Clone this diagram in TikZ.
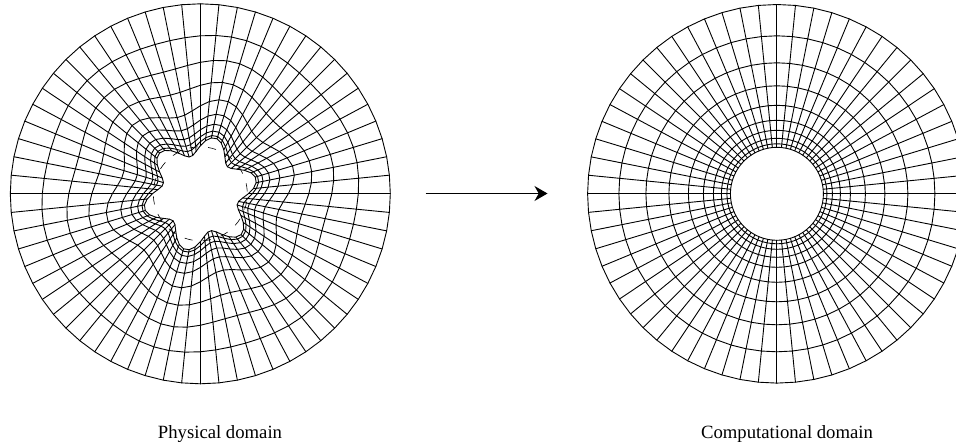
\documentclass[tikz,border=0pt]{standalone}
\usepackage{fontspec}
\setmainfont{Liberation Serif}
\usetikzlibrary{arrows.meta}
\tikzset{
  meshline/.style={line width=0.9pt,line join=round,line cap=round,black},
  dashmark/.style={line width=0.6pt,black},
  lbl/.style={font=\fontsize{18.7}{20}\selectfont,anchor=base,inner sep=0pt},
  maparrow/.style={line width=1.2pt,-{Stealth[length=13pt,width=15pt]}},
  declare function={
    rc(\j)={189.3,158,131,108,88.5,73.5,63.5,55.5,50,46.5}[int(\j)];
    rl(\j)={190,158,131.5,108.5,88,73.7,64,57,52,48}[int(\j)];
    am(\j)={0,2,4.5,5.5,8.5,8,7.5,7.5,8,9.7}[int(\j)];
    rp(\t,\j)=rl(\j)+am(\j)*sin(6*\t);
  }
}
\begin{document}
\begin{tikzpicture}[x=1pt,y=-1pt]
\useasboundingbox (0,0) rectangle (956,445);
\clip (0,0) rectangle (956,445);
\coordinate (L) at (200.3,193.8);
\coordinate (R) at (776.9,193.8);
% physical
\begin{scope}[shift={(L)}]
\foreach \j in {0,...,9}{
  \draw[meshline] plot[samples at={0,5.625,...,360.1},variable=\t] ({rp(\t,\j)*cos(\t)},{-rp(\t,\j)*sin(\t)});
}
\foreach \i in {0,...,63}{
  \pgfmathsetmacro\t{\i*5.625}
  \draw[meshline] plot[samples at={0,...,9},variable=\j] ({rp(\t,\j)*cos(\t)},{-rp(\t,\j)*sin(\t)});
}
\foreach \k in {0,...,15}{
  \pgfmathsetmacro\a{8+22.5*\k}
  \draw[dashmark] ({47*cos(\a-5)},{-47*sin(\a-5)}) -- ({47*cos(\a)},{-47*sin(\a)}) -- ({47*cos(\a+5)},{-47*sin(\a+5)});
}
\end{scope}
% computational
\begin{scope}[shift={(R)}]
\foreach \j in {0,...,9}{
  \draw[meshline] plot[samples at={0,5.625,...,360.1},variable=\t] ({rc(\j)*cos(\t)},{-rc(\j)*sin(\t)});
}
\foreach \i in {0,...,63}{
  \pgfmathsetmacro\t{\i*5.625}
  \draw[meshline] plot[samples at={0,...,9},variable=\j] ({rc(\j)*cos(\t)},{-rc(\j)*sin(\t)});
}
\end{scope}
\coordinate (A) at (425.7,193.5);
\coordinate (B) at (547.5,193.5);
\draw[maparrow] (A) -- (B);
\node[lbl] (phys) at (220,438.3) {Physical domain};
\node[lbl] (comp) at (787,438.3) {Computational domain};
\end{tikzpicture}
\end{document}
